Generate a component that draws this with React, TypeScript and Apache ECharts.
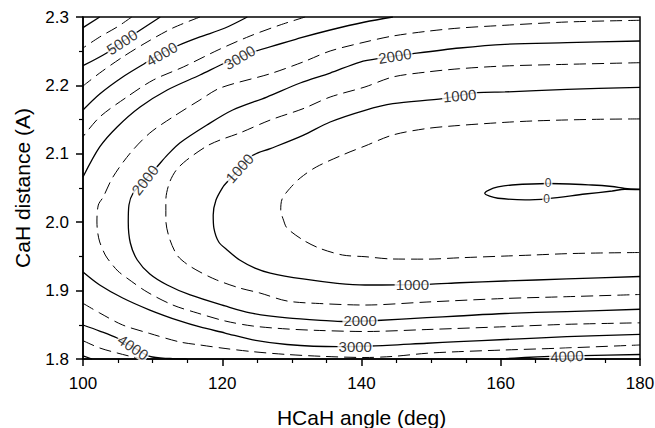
import React, { useEffect, useRef } from 'react';
import * as echarts from 'echarts';

// Axis ranges / ticks
const xRange = [100, 180];
const xStep = 20;
const yRange = [1.8, 2.3];
const yStep = 0.1;

// Contour lines: [HCaH angle (deg), CaH distance (A)]
const level0 = [[180, 2.0485], [177.8, 2.0496], [176.0, 2.0522], [173.1, 2.0544], [166.8, 2.0566], [161.6, 2.0544], [159.6, 2.0515], [158.3, 2.047], [157.7, 2.0423], [158.4, 2.038], [159.6, 2.035], [163.5, 2.0325], [166.8, 2.0346], [172.1, 2.0412], [176.0, 2.0456], [177.8, 2.0482], [180, 2.0478]];

const level500 = [[180, 2.151], [174.3, 2.1505], [169.5, 2.1495], [164.6, 2.148], [160.6, 2.146], [154.1, 2.1415], [149.4, 2.137], [144.5, 2.1275], [140.5, 2.1114], [137.6, 2.0997], [133.5, 2.0807], [131.2, 2.0646], [129.7, 2.0493], [128.6, 2.034], [128.4, 2.018], [128.8, 2.003], [129.3, 1.9915], [131.6, 1.974], [134.0, 1.9618], [137.3, 1.952], [140.5, 1.9496], [144.5, 1.9462], [149.4, 1.946], [154.1, 1.948], [160.6, 1.9505], [164.6, 1.952], [169.5, 1.954], [174.3, 1.955], [180, 1.9557]];

const level1000 = [[180, 2.1972], [169.5, 2.1943], [160.6, 2.1904], [156.6, 2.1893], [151.7, 2.1806], [144.5, 2.1732], [140.5, 2.1636], [135.5, 2.1465], [131.6, 2.127], [126.9, 2.1075], [124.4, 2.0978], [122.5, 2.078], [120.7, 2.0588], [120.1, 2.0515], [119.1, 2.0325], [118.7, 2.0105], [118.8, 1.9915], [119.5, 1.9711], [120.7, 1.9594], [122.5, 1.9447], [124.7, 1.933], [126.9, 1.9257], [131.6, 1.917], [136.5, 1.9107], [140.5, 1.9082], [149.6, 1.9092], [154.1, 1.9115], [160.6, 1.914], [169.5, 1.917], [180, 1.9206]];

const level1500 = [[180, 2.2332], [169.5, 2.2308], [160.6, 2.2284], [154.1, 2.2244], [149.4, 2.2196], [144.5, 2.2123], [140.5, 2.1977], [135.5, 2.183], [131.6, 2.1659], [126.9, 2.1494], [122.5, 2.1304], [119.7, 2.1202], [117.8, 2.1114], [114.9, 2.0909], [113.4, 2.0763], [112.4, 2.0573], [111.9, 2.0325], [111.9, 2.0032], [112.4, 1.9769], [113.5, 1.952], [114.9, 1.9389], [116.8, 1.9272], [119.2, 1.9155], [122.5, 1.9038], [125.4, 1.8965], [129.3, 1.8848], [134.0, 1.8811], [140.5, 1.8789], [149.4, 1.8833], [160.6, 1.8885], [169.5, 1.8911], [180, 1.8943]];

const level2000 = [[180, 2.2649], [169.5, 2.2624], [160.6, 2.2601], [154.1, 2.2547], [147.4, 2.2464], [142.9, 2.24], [139.8, 2.2342], [135.5, 2.2181], [131.2, 2.2035], [126.4, 2.183], [121.5, 2.164], [117.8, 2.1421], [113.9, 2.1158], [112.1, 2.098], [110.6, 2.0807], [108.9, 2.0617], [107.2, 2.0427], [106.6, 2.0251], [106.5, 2.0003], [106.8, 1.9696], [107.8, 1.9447], [109.6, 1.9243], [112.1, 1.9082], [115.4, 1.8936], [120.4, 1.8775], [124.0, 1.8673], [129.3, 1.86], [135.5, 1.8556], [137.3, 1.8548], [142.2, 1.8563], [149.4, 1.8604], [153.9, 1.8629], [160.6, 1.8665], [169.5, 1.8694], [180, 1.8727]];

const level2500 = [[180, 2.2952], [169.5, 2.2927], [160.6, 2.2879], [154.1, 2.2839], [149.4, 2.2791], [144.5, 2.2722], [140.5, 2.2634], [135.5, 2.2503], [131.6, 2.2342], [126.9, 2.2171], [119.7, 2.1962], [116.8, 2.1787], [112.9, 2.1538], [109.6, 2.1304], [106.8, 2.1012], [104.3, 2.0661], [102.9, 2.0368], [102.2, 2.0251], [102.0, 2.0003], [102.1, 1.9857], [102.4, 1.9711], [103.2, 1.952], [103.9, 1.9418], [105.0, 1.9287], [106.3, 1.9184], [109.2, 1.898], [112.9, 1.8789], [116.4, 1.8673], [120.4, 1.8556], [124.4, 1.8482], [129.3, 1.8439], [134.0, 1.8417], [140.5, 1.8402], [149.4, 1.8431], [160.6, 1.8472], [169.5, 1.8507], [180, 1.8529]];

const level3000Upper = [[144.5, 2.3], [140.5, 2.2927], [135.5, 2.281], [131.2, 2.2693], [124.4, 2.2488], [120.7, 2.2342], [116.8, 2.2152], [112.1, 2.1933], [108.2, 2.1684], [104.9, 2.1392], [102.4, 2.11], [100, 2.0661]];
const level3000Lower = [[100, 1.9272], [102.4, 1.9082], [105.7, 1.8892], [109.6, 1.8716], [113.9, 1.8556], [116.8, 1.8468], [120.4, 1.838], [124.4, 1.8278], [129.3, 1.8212], [136.5, 1.818], [141.5, 1.819], [149.4, 1.823], [153.9, 1.8253], [160.6, 1.8285], [169.5, 1.8326], [180, 1.8361]];

const level3500Upper = [[131.9, 2.3], [128.3, 2.2883], [124.0, 2.2722], [119.4, 2.2518], [114.4, 2.2269], [110.1, 2.2079], [106.3, 2.183], [102.4, 2.1538], [100, 2.125]];
const level3500Lower = [[100, 1.8814], [102.4, 1.8673], [105.7, 1.8497], [109.6, 1.8373], [113.9, 1.8249], [116.8, 1.8205], [120.4, 1.8154], [124.4, 1.8107], [129.3, 1.8066], [134.8, 1.8037], [140.5, 1.8022], [144.4, 1.8037], [149.4, 1.8084], [153.9, 1.8107], [160.6, 1.8132], [168.2, 1.8157], [180, 1.8205]];

const level4000Upper = [[123.6, 2.3], [120.4, 2.2839], [116.8, 2.2708], [113.5, 2.2576], [111.3, 2.2474], [109.2, 2.2342], [105.7, 2.2123], [102.4, 2.1874], [100, 2.164]];
const level4000Lower = [[100, 1.8497], [102.4, 1.8409], [104.9, 1.8307], [107.2, 1.8175], [109.6, 1.8037], [112.5, 1.8007], [114.9, 1.8]];
const level4000LowerRight = [[159.9, 1.8], [163.5, 1.8022], [167.1, 1.8037], [171.8, 1.8048], [180, 1.8066]];

const level4500Upper = [[116.8, 2.3], [112.9, 2.2839], [109.2, 2.2634], [105.7, 2.2415], [102.4, 2.2181], [100, 2.1991]];
const level4500Lower = [[100, 1.8268], [102.4, 1.8161], [104.9, 1.8088], [107.2, 1.803], [108.9, 1.8]];

const level5000Upper = [[111.1, 2.3], [107.8, 2.2781], [105.6, 2.2634], [103.4, 2.2474], [100, 2.2288]];
const level5000Lower = [[100, 1.8044], [101.3, 1.8]];

const level5500Upper = [[107.0, 2.3], [104.9, 2.2854], [102.4, 2.2708], [100, 2.2547]];
const level6000Upper = [[102.4, 2.3], [100, 2.2844]];

// Contour labels: [x, y, text, angle, font size]
const contourLabels = [
  [105.6, 2.2634, '5000', 33, 15],
  [111.3, 2.246, '4000', 30, 15],
  [122.5, 2.241, '3000', 30, 15],
  [108.9, 2.0617, '2000', 52, 15],
  [122.5, 2.079, '1000', 48, 15],
  [144.8, 2.243, '2000', 9, 15],
  [154.1, 2.185, '1000', 5, 15],
  [166.8, 2.0566, '0', 0, 12],
  [166.6, 2.0336, '0', 0, 12],
  [147.3, 1.9087, '1000', 0, 15],
  [139.8, 1.8558, '2000', 0, 15],
  [139.1, 1.8183, '3000', 0, 15],
  [169.5, 1.8042, '4000', 2, 15],
  [107.2, 1.8172, '4000', -34, 15],
];

const contours = [
  { pts: level0, dashed: false },
  { pts: level500, dashed: true },
  { pts: level1000, dashed: false },
  { pts: level1500, dashed: true },
  { pts: level2000, dashed: false },
  { pts: level2500, dashed: true },
  { pts: level3000Upper, dashed: false },
  { pts: level3000Lower, dashed: false },
  { pts: level3500Upper, dashed: true },
  { pts: level3500Lower, dashed: true },
  { pts: level4000Upper, dashed: false },
  { pts: level4000Lower, dashed: false },
  { pts: level4000LowerRight, dashed: false },
  { pts: level4500Upper, dashed: true },
  { pts: level4500Lower, dashed: true },
  { pts: level5000Upper, dashed: false },
  { pts: level5000Lower, dashed: false },
  { pts: level5500Upper, dashed: true },
  { pts: level6000Upper, dashed: false },
];

const FONT = '"Liberation Sans", Arial, Helvetica, sans-serif';

export default function App() {
  const ref = useRef<HTMLDivElement>(null);

  useEffect(() => {
    if (!ref.current) return;
    const chart = echarts.init(ref.current, null, { renderer: 'svg' });

    const series: any[] = contours.map((c) => ({
      type: 'line',
      data: c.pts,
      showSymbol: false,
      symbol: 'none',
      smooth: 0.3,
      silent: true,
      z: 2,
      lineStyle: {
        color: '#000',
        width: c.dashed ? 1 : 1.3,
        type: c.dashed ? [12, 6] : 'solid',
      },
    }));

    series.push({
      type: 'scatter',
      symbolSize: 1,
      z: 10,
      silent: true,
      itemStyle: { color: 'rgba(0,0,0,0)' },
      data: contourLabels.map(([x, y, t, r, fs]) => ({
        value: [x, y],
        name: t,
        label: { rotate: r, fontSize: fs },
      })),
      label: {
        show: true,
        position: 'inside',
        formatter: '{b}',
        color: '#000',
        fontSize: 15,
        fontFamily: FONT,
        backgroundColor: '#fff',
        padding: [0, 1],
      },
    });

    const axisCommon = {
      type: 'value',
      nameLocation: 'middle',
      nameTextStyle: { fontSize: 21, color: '#000', fontFamily: FONT },
      axisLine: { show: true, onZero: false, lineStyle: { color: '#000', width: 1.5 } },
      axisTick: { show: true, length: 7, lineStyle: { color: '#000', width: 1.5 } },
      minorTick: { show: true, length: 4, lineStyle: { color: '#000', width: 1.2 } },
      splitLine: { show: false },
      minorSplitLine: { show: false },
    };

    chart.setOption({
      animation: false,
      backgroundColor: '#fff',
      grid: {
        left: 83,
        top: 17,
        right: 15,
        bottom: 69,
        show: true,
        borderColor: '#000',
        borderWidth: 1.5,
        containLabel: false,
        outerBoundsMode: 'none',
      },
      xAxis: {
        ...axisCommon,
        min: xRange[0],
        max: xRange[1],
        interval: xStep,
        name: 'HCaH angle (deg)',
        nameGap: 48,
        minorTick: { ...axisCommon.minorTick, splitNumber: 4 },
        axisLabel: { color: '#000', fontSize: 17, fontFamily: FONT, margin: 16 },
      },
      yAxis: {
        ...axisCommon,
        min: yRange[0],
        max: yRange[1],
        interval: yStep,
        name: 'CaH distance (A)',
        nameGap: 50,
        minorTick: { ...axisCommon.minorTick, splitNumber: 2 },
        axisLabel: {
          color: '#000',
          fontSize: 17,
          fontFamily: FONT,
          margin: 14,
          formatter: (v: number) => v.toFixed(1),
        },
      },
      series,
    });

    return () => chart.dispose();
  }, []);

  return (
    <div
      ref={ref}
      style={{ position: 'absolute', left: 0, top: 0, width: 655, height: 428, background: '#fff' }}
    />
  );
}
